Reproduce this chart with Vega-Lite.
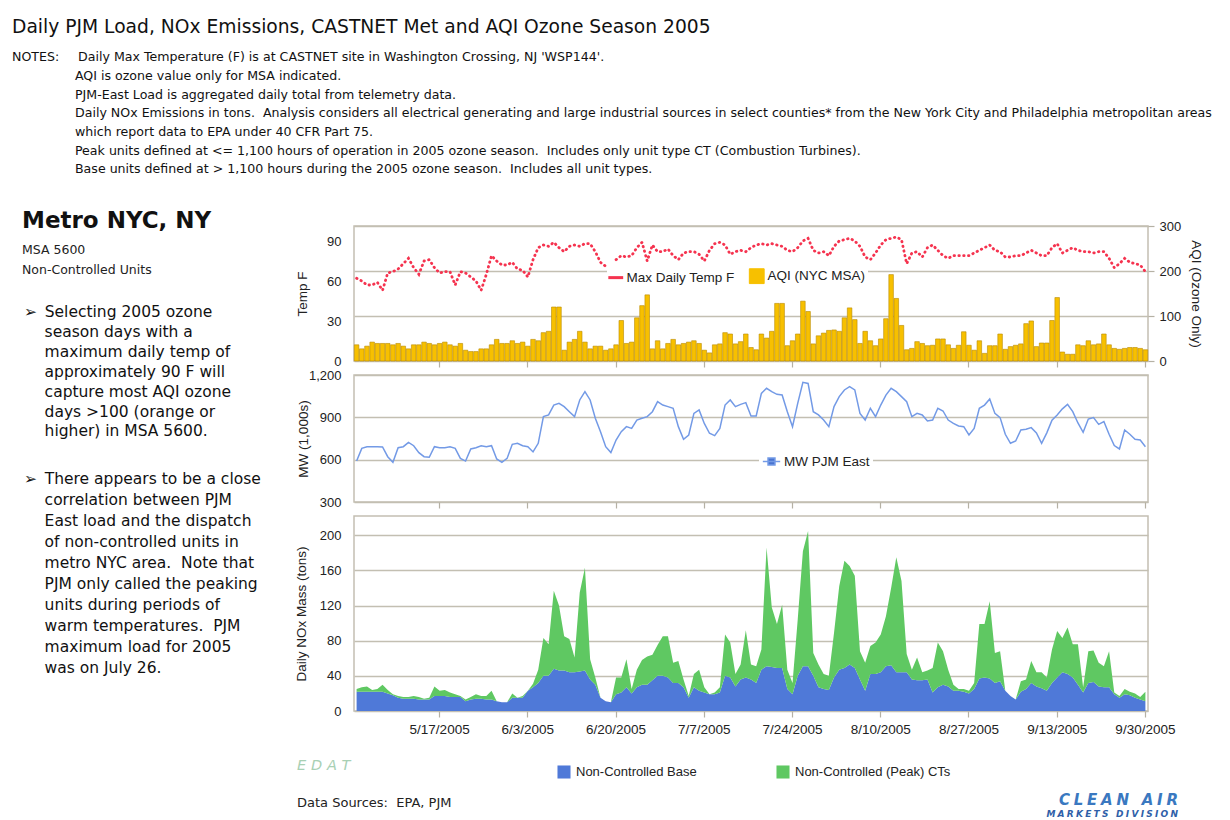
{
"$schema": "https://vega.github.io/schema/vega-lite/v6.json",
"background": "white",
"padding": {"left": 12, "top": 17, "right": 5, "bottom": 0},
"title": {
 "text": "Daily PJM Load, NOx Emissions, CASTNET Met and AQI Ozone Season 2005",
 "subtitle": [
  "NOTES:\u2003\u2002Daily Max Temperature (F) is at CASTNET site in Washington Crossing, NJ 'WSP144'.",
  "\u200b\u2003\u2003\u2003\u2003\u2003AQI is ozone value only for MSA indicated.",
  "\u200b\u2003\u2003\u2003\u2003\u2003PJM-East Load is aggregated daily total from telemetry data.",
  "\u200b\u2003\u2003\u2003\u2003\u2003Daily NOx Emissions in tons.\u00a0 Analysis considers all electrical generating and large industrial sources in select counties* from the New York City and Philadelphia metropolitan areas",
  "\u200b\u2003\u2003\u2003\u2003\u2003which report data to EPA under 40 CFR Part 75.",
  "\u200b\u2003\u2003\u2003\u2003\u2003Peak units defined at <= 1,100 hours of operation in 2005 ozone season.\u00a0 Includes only unit type CT (Combustion Turbines).",
  "\u200b\u2003\u2003\u2003\u2003\u2003Base units defined at > 1,100 hours during the 2005 ozone season.\u00a0 Includes all unit types."
 ],
 "anchor": "start", "frame": "group", "offset": 34,
 "font": "DejaVu Sans", "fontSize": 18.7, "fontWeight": "normal", "color": "#111",
 "subtitleFont": "DejaVu Sans", "subtitleFontSize": 12.6, "subtitleColor": "#111",
 "subtitleLineHeight": 18.7, "subtitlePadding": 15
},
"datasets": {"days": [
{"d":"5/1/2005","temp":62,"aqi":36,"mw":590,"base":22,"peak":3},
{"d":"5/2/2005","temp":60,"aqi":27,"mw":680,"base":22,"peak":5},
{"d":"5/3/2005","temp":57,"aqi":33,"mw":692,"base":22,"peak":6},
{"d":"5/4/2005","temp":57,"aqi":42,"mw":692,"base":22,"peak":2},
{"d":"5/5/2005","temp":59,"aqi":39,"mw":692,"base":22,"peak":3},
{"d":"5/6/2005","temp":53,"aqi":39,"mw":690,"base":22,"peak":8},
{"d":"5/7/2005","temp":66,"aqi":39,"mw":621,"base":20,"peak":4},
{"d":"5/8/2005","temp":67,"aqi":36,"mw":581,"base":18,"peak":1},
{"d":"5/9/2005","temp":69,"aqi":39,"mw":685,"base":15,"peak":2},
{"d":"5/10/2005","temp":73,"aqi":33,"mw":692,"base":14,"peak":2},
{"d":"5/11/2005","temp":77,"aqi":27,"mw":723,"base":14,"peak":2},
{"d":"5/12/2005","temp":70,"aqi":36,"mw":699,"base":14,"peak":3},
{"d":"5/13/2005","temp":65,"aqi":36,"mw":650,"base":13,"peak":3},
{"d":"5/14/2005","temp":75,"aqi":42,"mw":621,"base":13,"peak":1},
{"d":"5/15/2005","temp":76,"aqi":39,"mw":617,"base":13,"peak":2},
{"d":"5/16/2005","temp":70,"aqi":36,"mw":692,"base":17,"peak":11},
{"d":"5/17/2005","temp":66,"aqi":39,"mw":685,"base":17,"peak":6},
{"d":"5/18/2005","temp":67,"aqi":42,"mw":685,"base":17,"peak":7},
{"d":"5/19/2005","temp":67,"aqi":36,"mw":692,"base":16,"peak":5},
{"d":"5/20/2005","temp":57,"aqi":33,"mw":680,"base":16,"peak":3},
{"d":"5/21/2005","temp":67,"aqi":39,"mw":609,"base":16,"peak":1},
{"d":"5/22/2005","temp":66,"aqi":24,"mw":590,"base":11,"peak":2},
{"d":"5/23/2005","temp":63,"aqi":21,"mw":676,"base":13,"peak":3},
{"d":"5/24/2005","temp":60,"aqi":21,"mw":685,"base":14,"peak":5},
{"d":"5/25/2005","temp":53,"aqi":27,"mw":699,"base":14,"peak":3},
{"d":"5/26/2005","temp":65,"aqi":27,"mw":692,"base":13,"peak":4},
{"d":"5/27/2005","temp":79,"aqi":36,"mw":699,"base":13,"peak":10},
{"d":"5/28/2005","temp":75,"aqi":48,"mw":605,"base":11,"peak":0},
{"d":"5/29/2005","temp":72,"aqi":39,"mw":581,"base":10,"peak":0},
{"d":"5/30/2005","temp":72,"aqi":39,"mw":609,"base":10,"peak":0},
{"d":"5/31/2005","temp":74,"aqi":45,"mw":709,"base":15,"peak":5},
{"d":"6/1/2005","temp":69,"aqi":39,"mw":716,"base":15,"peak":0},
{"d":"6/2/2005","temp":68,"aqi":42,"mw":699,"base":15,"peak":2},
{"d":"6/3/2005","temp":63,"aqi":33,"mw":692,"base":23,"peak":0},
{"d":"6/4/2005","temp":76,"aqi":48,"mw":655,"base":27,"peak":4},
{"d":"6/5/2005","temp":85,"aqi":45,"mw":716,"base":32,"peak":15},
{"d":"6/6/2005","temp":87,"aqi":63,"mw":905,"base":40,"peak":43},
{"d":"6/7/2005","temp":86,"aqi":66,"mw":917,"base":40,"peak":36},
{"d":"6/8/2005","temp":89,"aqi":120,"mw":987,"base":48,"peak":89},
{"d":"6/9/2005","temp":85,"aqi":120,"mw":999,"base":46,"peak":74},
{"d":"6/10/2005","temp":82,"aqi":24,"mw":976,"base":46,"peak":39},
{"d":"6/11/2005","temp":86,"aqi":42,"mw":940,"base":44,"peak":38},
{"d":"6/12/2005","temp":87,"aqi":48,"mw":905,"base":44,"peak":17},
{"d":"6/13/2005","temp":86,"aqi":66,"mw":1023,"base":45,"peak":90},
{"d":"6/14/2005","temp":88,"aqi":42,"mw":1082,"base":46,"peak":117},
{"d":"6/15/2005","temp":88,"aqi":27,"mw":1023,"base":36,"peak":23},
{"d":"6/16/2005","temp":82,"aqi":33,"mw":893,"base":30,"peak":8},
{"d":"6/17/2005","temp":74,"aqi":33,"mw":798,"base":15,"peak":0},
{"d":"6/18/2005","temp":71,"aqi":24,"mw":692,"base":11,"peak":0},
{"d":"6/19/2005","temp":null,"aqi":27,"mw":650,"base":10,"peak":0},
{"d":"6/20/2005","temp":76,"aqi":36,"mw":739,"base":19,"peak":19},
{"d":"6/21/2005","temp":79,"aqi":90,"mw":798,"base":21,"peak":17},
{"d":"6/22/2005","temp":78,"aqi":39,"mw":834,"base":27,"peak":32},
{"d":"6/23/2005","temp":79,"aqi":42,"mw":822,"base":20,"peak":5},
{"d":"6/24/2005","temp":85,"aqi":96,"mw":881,"base":27,"peak":20},
{"d":"6/25/2005","temp":89,"aqi":123,"mw":893,"base":30,"peak":28},
{"d":"6/26/2005","temp":75,"aqi":147,"mw":905,"base":30,"peak":32},
{"d":"6/27/2005","temp":87,"aqi":27,"mw":940,"base":35,"peak":29},
{"d":"6/28/2005","temp":82,"aqi":45,"mw":1011,"base":40,"peak":35},
{"d":"6/29/2005","temp":82,"aqi":27,"mw":987,"base":40,"peak":45},
{"d":"6/30/2005","temp":84,"aqi":39,"mw":976,"base":38,"peak":47},
{"d":"7/1/2005","temp":79,"aqi":48,"mw":964,"base":32,"peak":23},
{"d":"7/2/2005","temp":76,"aqi":36,"mw":834,"base":32,"peak":25},
{"d":"7/3/2005","temp":81,"aqi":39,"mw":744,"base":27,"peak":9},
{"d":"7/4/2005","temp":82,"aqi":42,"mw":775,"base":15,"peak":2},
{"d":"7/5/2005","temp":82,"aqi":45,"mw":928,"base":27,"peak":15},
{"d":"7/6/2005","temp":80,"aqi":39,"mw":952,"base":23,"peak":24},
{"d":"7/7/2005","temp":75,"aqi":24,"mw":857,"base":21,"peak":6},
{"d":"7/8/2005","temp":83,"aqi":18,"mw":787,"base":19,"peak":0},
{"d":"7/9/2005","temp":88,"aqi":36,"mw":770,"base":19,"peak":2},
{"d":"7/10/2005","temp":89,"aqi":38,"mw":822,"base":21,"peak":6},
{"d":"7/11/2005","temp":87,"aqi":63,"mw":987,"base":40,"peak":47},
{"d":"7/12/2005","temp":80,"aqi":60,"mw":1023,"base":38,"peak":40},
{"d":"7/13/2005","temp":82,"aqi":38,"mw":976,"base":28,"peak":14},
{"d":"7/14/2005","temp":83,"aqi":43,"mw":992,"base":36,"peak":17},
{"d":"7/15/2005","temp":82,"aqi":60,"mw":1004,"base":38,"peak":54},
{"d":"7/16/2005","temp":85,"aqi":30,"mw":910,"base":36,"peak":17},
{"d":"7/17/2005","temp":87,"aqi":25,"mw":910,"base":32,"peak":19},
{"d":"7/18/2005","temp":88,"aqi":60,"mw":1070,"base":47,"peak":23},
{"d":"7/19/2005","temp":87,"aqi":51,"mw":1106,"base":51,"peak":135},
{"d":"7/20/2005","temp":88,"aqi":66,"mw":1082,"base":50,"peak":68},
{"d":"7/21/2005","temp":87,"aqi":128,"mw":1063,"base":49,"peak":50},
{"d":"7/22/2005","temp":86,"aqi":128,"mw":1058,"base":49,"peak":72},
{"d":"7/23/2005","temp":83,"aqi":34,"mw":940,"base":25,"peak":22},
{"d":"7/24/2005","temp":82,"aqi":45,"mw":834,"base":19,"peak":13},
{"d":"7/25/2005","temp":85,"aqi":60,"mw":999,"base":40,"peak":64},
{"d":"7/26/2005","temp":90,"aqi":133,"mw":1148,"base":51,"peak":131},
{"d":"7/27/2005","temp":92,"aqi":110,"mw":1140,"base":51,"peak":154},
{"d":"7/28/2005","temp":83,"aqi":38,"mw":940,"base":40,"peak":26},
{"d":"7/29/2005","temp":81,"aqi":56,"mw":917,"base":27,"peak":26},
{"d":"7/30/2005","temp":82,"aqi":62,"mw":881,"base":25,"peak":17},
{"d":"7/31/2005","temp":79,"aqi":68,"mw":834,"base":24,"peak":16},
{"d":"8/1/2005","temp":86,"aqi":69,"mw":976,"base":38,"peak":51},
{"d":"8/2/2005","temp":90,"aqi":66,"mw":1047,"base":47,"peak":95},
{"d":"8/3/2005","temp":91,"aqi":96,"mw":1094,"base":49,"peak":122},
{"d":"8/4/2005","temp":92,"aqi":118,"mw":1117,"base":53,"peak":112},
{"d":"8/5/2005","temp":90,"aqi":92,"mw":1094,"base":49,"peak":105},
{"d":"8/6/2005","temp":86,"aqi":39,"mw":928,"base":36,"peak":32},
{"d":"8/7/2005","temp":78,"aqi":66,"mw":881,"base":23,"peak":32},
{"d":"8/8/2005","temp":76,"aqi":45,"mw":964,"base":42,"peak":32},
{"d":"8/9/2005","temp":81,"aqi":34,"mw":905,"base":42,"peak":36},
{"d":"8/10/2005","temp":87,"aqi":49,"mw":987,"base":44,"peak":43},
{"d":"8/11/2005","temp":91,"aqi":94,"mw":1058,"base":51,"peak":57},
{"d":"8/12/2005","temp":92,"aqi":192,"mw":1106,"base":52,"peak":88},
{"d":"8/13/2005","temp":93,"aqi":139,"mw":1082,"base":44,"peak":131},
{"d":"8/14/2005","temp":91,"aqi":79,"mw":1047,"base":44,"peak":104},
{"d":"8/15/2005","temp":73,"aqi":25,"mw":1011,"base":44,"peak":21},
{"d":"8/16/2005","temp":81,"aqi":28,"mw":905,"base":36,"peak":11},
{"d":"8/17/2005","temp":82,"aqi":43,"mw":928,"base":35,"peak":26},
{"d":"8/18/2005","temp":78,"aqi":39,"mw":917,"base":35,"peak":9},
{"d":"8/19/2005","temp":85,"aqi":34,"mw":874,"base":36,"peak":10},
{"d":"8/20/2005","temp":87,"aqi":35,"mw":881,"base":21,"peak":28},
{"d":"8/21/2005","temp":83,"aqi":49,"mw":964,"base":27,"peak":51},
{"d":"8/22/2005","temp":79,"aqi":49,"mw":945,"base":30,"peak":38},
{"d":"8/23/2005","temp":77,"aqi":36,"mw":881,"base":28,"peak":19},
{"d":"8/24/2005","temp":79,"aqi":28,"mw":857,"base":23,"peak":7},
{"d":"8/25/2005","temp":79,"aqi":35,"mw":839,"base":23,"peak":2},
{"d":"8/26/2005","temp":79,"aqi":65,"mw":834,"base":22,"peak":3},
{"d":"8/27/2005","temp":79,"aqi":35,"mw":775,"base":20,"peak":3},
{"d":"8/28/2005","temp":81,"aqi":24,"mw":822,"base":25,"peak":7},
{"d":"8/29/2005","temp":83,"aqi":45,"mw":964,"base":37,"peak":62},
{"d":"8/30/2005","temp":85,"aqi":17,"mw":987,"base":38,"peak":61},
{"d":"8/31/2005","temp":87,"aqi":34,"mw":1030,"base":37,"peak":88},
{"d":"9/1/2005","temp":83,"aqi":34,"mw":928,"base":32,"peak":34},
{"d":"9/2/2005","temp":82,"aqi":60,"mw":898,"base":34,"peak":34},
{"d":"9/3/2005","temp":78,"aqi":26,"mw":780,"base":23,"peak":0},
{"d":"9/4/2005","temp":78,"aqi":32,"mw":716,"base":17,"peak":0},
{"d":"9/5/2005","temp":79,"aqi":35,"mw":732,"base":13,"peak":0},
{"d":"9/6/2005","temp":79,"aqi":38,"mw":810,"base":22,"peak":12},
{"d":"9/7/2005","temp":81,"aqi":83,"mw":815,"base":25,"peak":11},
{"d":"9/8/2005","temp":83,"aqi":89,"mw":827,"base":32,"peak":25},
{"d":"9/9/2005","temp":81,"aqi":32,"mw":790,"base":28,"peak":16},
{"d":"9/10/2005","temp":79,"aqi":40,"mw":716,"base":26,"peak":18},
{"d":"9/11/2005","temp":79,"aqi":40,"mw":790,"base":23,"peak":15},
{"d":"9/12/2005","temp":85,"aqi":90,"mw":880,"base":32,"peak":38},
{"d":"9/13/2005","temp":88,"aqi":141,"mw":917,"base":38,"peak":53},
{"d":"9/14/2005","temp":81,"aqi":20,"mw":960,"base":44,"peak":39},
{"d":"9/15/2005","temp":83,"aqi":15,"mw":992,"base":42,"peak":53},
{"d":"9/16/2005","temp":85,"aqi":15,"mw":940,"base":38,"peak":38},
{"d":"9/17/2005","temp":83,"aqi":36,"mw":860,"base":30,"peak":46},
{"d":"9/18/2005","temp":82,"aqi":34,"mw":794,"base":21,"peak":6},
{"d":"9/19/2005","temp":82,"aqi":45,"mw":888,"base":32,"peak":36},
{"d":"9/20/2005","temp":81,"aqi":36,"mw":898,"base":33,"peak":36},
{"d":"9/21/2005","temp":82,"aqi":38,"mw":850,"base":28,"peak":27},
{"d":"9/22/2005","temp":82,"aqi":60,"mw":870,"base":27,"peak":24},
{"d":"9/23/2005","temp":77,"aqi":36,"mw":780,"base":27,"peak":41},
{"d":"9/24/2005","temp":70,"aqi":28,"mw":700,"base":19,"peak":2},
{"d":"9/25/2005","temp":73,"aqi":26,"mw":676,"base":15,"peak":2},
{"d":"9/26/2005","temp":77,"aqi":28,"mw":810,"base":19,"peak":6},
{"d":"9/27/2005","temp":74,"aqi":30,"mw":780,"base":18,"peak":4},
{"d":"9/28/2005","temp":73,"aqi":30,"mw":745,"base":15,"peak":5},
{"d":"9/29/2005","temp":72,"aqi":28,"mw":739,"base":13,"peak":3},
{"d":"9/30/2005","temp":67,"aqi":25,"mw":692,"base":11,"peak":11}
]},
"columns": 2,
"bounds": "flush",
"spacing": {"row": 14, "column": 72},
"resolve": {"scale": {"color": "independent"}, "legend": {"color": "independent"}},
"concat": [
 {
  "width": 270, "height": 135,
  "view": {"stroke": null},
  "data": {"values": [{}]},
  "mark": {"type": "text", "text": ""},
  "title": {
   "text": "Metro NYC, NY",
   "subtitle": ["MSA 5600", "Non-Controlled Units"],
   "anchor": "start", "orient": "top", "frame": "group", "offset": -50.5, "dx": 10,
   "font": "DejaVu Sans", "fontSize": 23, "fontWeight": "bold", "color": "#111",
   "subtitleFont": "DejaVu Sans", "subtitleFontSize": 12.5, "subtitleColor": "#222",
   "subtitleLineHeight": 20, "subtitlePadding": 11
  }
 },
 {
  "width": 794, "height": 135,
  "data": {"name": "days"},
  "resolve": {"scale": {"y": "independent"}},
  "layer": [
   {
    "mark": {"type": "bar", "stroke": "#b88a00", "strokeWidth": 0.6},
    "encoding": {
     "x": {"field": "d", "type": "ordinal", "sort": null,
           "scale": {"type": "band", "paddingInner": 0.12, "paddingOuter": 0.06},
           "axis": {"values": ["5/17/2005","6/3/2005","6/20/2005","7/7/2005","7/24/2005","8/10/2005","8/27/2005","9/13/2005","9/30/2005"],
                    "labels": false, "ticks": true, "tickSize": 6, "title": null, "grid": false, "domain": false}},
     "y": {"field": "aqi", "type": "quantitative", "scale": {"domain": [0, 300]},
           "axis": {"orient": "right", "title": "AQI (Ozone Only)", "values": [0, 100, 200, 300], "grid": true,
                    "ticks": true, "tickSize": 6, "labelPadding": 5, "titlePadding": 8}},
     "color": {"datum": "AQI (NYC MSA)",
               "scale": {"domain": ["Max Daily Temp F", "AQI (NYC MSA)"], "range": ["#f5334f", "#f7c000"]},
               "legend": {
                "orient": "none", "legendX": 253, "legendY": 41, "direction": "horizontal", "title": null,
                "fillColor": "white", "padding": 2, "symbolSize": 220, "columnPadding": 12, "labelOffset": 4,
                "encode": {"symbols": {"update": {
                 "shape": {"signal": "datum.value === 'AQI (NYC MSA)' ? 'square' : 'stroke'"},
                 "fill": {"signal": "datum.value === 'AQI (NYC MSA)' ? '#f7c000' : 'transparent'"},
                 "stroke": {"signal": "datum.value === 'AQI (NYC MSA)' ? '#b88a00' : '#f5334f'"},
                 "strokeWidth": {"signal": "datum.value === 'AQI (NYC MSA)' ? 1 : 3"},
                 "opacity": {"value": 1}
                }}}
               }}
    }
   },
   {
    "mark": {"type": "line", "strokeDash": [0.5, 4.3], "strokeCap": "round", "strokeWidth": 2.8},
    "encoding": {
     "x": {"field": "d", "type": "ordinal", "sort": null},
     "y": {"field": "temp", "type": "quantitative", "scale": {"domain": [0, 101.25]},
           "axis": {"orient": "left", "title": "Temp F", "values": [0, 30, 60, 90], "grid": false, "titlePadding": 17}},
     "color": {"datum": "Max Daily Temp F",
               "legend": {
                "orient": "none", "legendX": 253, "legendY": 41, "direction": "horizontal", "title": null,
                "fillColor": "white", "padding": 2, "symbolSize": 220, "columnPadding": 12, "labelOffset": 4,
                "encode": {"symbols": {"update": {
                 "shape": {"signal": "datum.value === 'AQI (NYC MSA)' ? 'square' : 'stroke'"},
                 "fill": {"signal": "datum.value === 'AQI (NYC MSA)' ? '#f7c000' : 'transparent'"},
                 "stroke": {"signal": "datum.value === 'AQI (NYC MSA)' ? '#b88a00' : '#f5334f'"},
                 "strokeWidth": {"signal": "datum.value === 'AQI (NYC MSA)' ? 1 : 3"},
                 "opacity": {"value": 1}
                }}}
               }}
    }
   }
  ]
 },
 {
  "width": 270, "height": 127,
  "view": {"stroke": null},
  "data": {"values": [{}]},
  "mark": {"type": "text", "text": ""},
  "title": {
   "text": [
    "\u27a2\u2002Selecting 2005 ozone",
    "\u200b\u2003\u2004season days with a",
    "\u200b\u2003\u2004maximum daily temp of",
    "\u200b\u2003\u2004approximately 90 F will",
    "\u200b\u2003\u2004capture most AQI ozone",
    "\u200b\u2003\u2004days >100 (orange or",
    "\u200b\u2003\u2004higher) in MSA 5600."
   ],
   "anchor": "start", "orient": "top", "frame": "group", "offset": -65, "dx": 12,
   "font": "DejaVu Sans", "fontSize": 15.5, "fontWeight": "normal", "color": "#111",
   "lineHeight": 19.9
  }
 },
 {
  "width": 794, "height": 127,
  "data": {"name": "days"},
  "mark": {"type": "line", "strokeWidth": 1.5},
  "encoding": {
   "x": {"field": "d", "type": "ordinal", "sort": null,
         "scale": {"type": "band", "paddingInner": 0.12, "paddingOuter": 0.06},
         "axis": {"values": ["5/17/2005","6/3/2005","6/20/2005","7/7/2005","7/24/2005","8/10/2005","8/27/2005","9/13/2005","9/30/2005"],
                  "labels": false, "ticks": true, "tickSize": 6, "title": null, "grid": false, "domain": false}},
   "y": {"field": "mw", "type": "quantitative", "scale": {"domain": [300, 1200]},
         "axis": {"title": "MW (1,000s)", "values": [300, 600, 900, 1200], "grid": true, "titlePadding": -2}},
   "color": {"datum": "MW PJM East", "scale": {"domain": ["MW PJM East"], "range": ["#739ae6"]},
             "legend": {
              "orient": "none", "legendX": 405, "legendY": 74, "direction": "horizontal", "title": null,
              "fillColor": "white", "padding": 3, "symbolSize": 300, "labelOffset": 3,
              "encode": {"symbols": {"update": {
               "shape": {"value": "M-1,0L1,0M-0.4,-0.4L0.4,-0.4L0.4,0.4L-0.4,0.4Z"},
               "fill": {"value": "#4a74d0"},
               "stroke": {"value": "#4a74d0"},
               "strokeWidth": {"value": 1.5},
               "opacity": {"value": 1}
              }}}
             }}
  }
 },
 {
  "width": 270, "height": 195,
  "view": {"stroke": null},
  "data": {"values": [{}]},
  "mark": {"type": "text", "text": ""},
  "title": {
   "text": [
    "\u27a2\u2002There appears to be a close",
    "\u200b\u2003\u2004correlation between PJM",
    "\u200b\u2003\u2004East load and the dispatch",
    "\u200b\u2003\u2004of non-controlled units in",
    "\u200b\u2003\u2004metro NYC area.\u00a0 Note that",
    "\u200b\u2003\u2004PJM only called the peaking",
    "\u200b\u2003\u2004units during periods of",
    "\u200b\u2003\u2004warm temperatures.\u00a0 PJM",
    "\u200b\u2003\u2004maximum load for 2005",
    "\u200b\u2003\u2004was on July 26."
   ],
   "anchor": "start", "orient": "top", "frame": "group", "offset": -161, "dx": 12,
   "font": "DejaVu Sans", "fontSize": 15.5, "fontWeight": "normal", "color": "#111",
   "lineHeight": 21.1
  }
 },
 {
  "width": 794, "height": 195,
  "data": {"name": "days"},
  "transform": [{"fold": ["base", "peak"], "as": ["series", "tons"]}],
  "mark": {"type": "area"},
  "encoding": {
   "x": {"field": "d", "type": "ordinal", "sort": null,
         "scale": {"type": "band", "paddingInner": 0.12, "paddingOuter": 0.06},
         "axis": {"values": ["5/17/2005","6/3/2005","6/20/2005","7/7/2005","7/24/2005","8/10/2005","8/27/2005","9/13/2005","9/30/2005"],
                  "labels": true, "labelAngle": 0, "labelFontSize": 13.5, "labelPadding": 5, "ticks": true, "tickSize": 6,
                  "title": null, "grid": false, "domain": false}},
   "y": {"field": "tons", "type": "quantitative", "stack": "zero", "scale": {"domain": [0, 222]},
         "axis": {"title": "Daily NOx Mass (tons)", "values": [0, 40, 80, 120, 160, 200], "grid": true, "titlePadding": 11}},
   "order": {"field": "series", "sort": "ascending"},
   "color": {"field": "series", "type": "nominal",
             "scale": {"domain": ["base", "peak"], "range": ["#4f79d8", "#5fc862"]},
             "legend": {
              "orient": "none", "legendX": 203, "legendY": 249, "direction": "horizontal", "title": null,
              "symbolType": "square", "symbolSize": 170, "symbolStrokeWidth": 0, "columnPadding": 79, "labelOffset": 5,
              "labelFontSize": 13,
              "labelExpr": "datum.label == 'base' ? 'Non-Controlled Base' : 'Non-Controlled (Peak) CTs'"
             }}
  }
 },
 {
  "width": 270, "height": 30,
  "view": {"stroke": null},
  "data": {"values": [{}]},
  "mark": {"type": "text", "text": ""},
  "title": {
   "text": "E\u2004D\u2004A\u2004T",
   "subtitle": "Data Sources:\u00a0 EPA, PJM",
   "orient": "bottom", "anchor": "start", "frame": "group", "dx": 285, "offset": 4,
   "font": "DejaVu Sans", "fontSize": 14.5, "fontStyle": "italic", "fontWeight": "normal", "color": "#a8d0b4",
   "subtitleFont": "DejaVu Sans", "subtitleFontSize": 13, "subtitleColor": "#222", "subtitlePadding": 23.5
  }
 },
 {
  "width": 794, "height": 30,
  "view": {"stroke": null},
  "data": {"values": [{}]},
  "mark": {"type": "text", "text": ""},
  "title": {
   "text": "C\u2005L\u2005E\u2005A\u2005N\u2005 \u2005A\u2005I\u2005R",
   "subtitle": "M\u2005A\u2005R\u2005K\u2005E\u2005T\u2005S\u2005 \u2005D\u2005I\u2005V\u2005I\u2005S\u2005I\u2005O\u2005N",
   "orient": "bottom", "anchor": "end", "frame": "group", "dx": 30, "offset": 38,
   "font": "DejaVu Sans", "fontSize": 15, "fontStyle": "italic", "fontWeight": "bold", "color": "#3a78c0",
   "subtitleFont": "DejaVu Sans", "subtitleFontSize": 9, "subtitleFontStyle": "italic", "subtitleFontWeight": "bold",
   "subtitleColor": "#2f5fa8", "subtitlePadding": 2
  }
 }
],
"config": {
 "font": "Liberation Sans",
 "view": {"stroke": "#c3bfb2", "strokeWidth": 1.5},
 "axis": {
  "domain": false, "ticks": false, "tickColor": "#b5b1a4", "tickWidth": 1.2,
  "labelFont": "Liberation Sans", "labelFontSize": 13, "labelColor": "#222", "labelPadding": 13,
  "titleFont": "Liberation Sans", "titleFontSize": 13.5, "titleFontWeight": "normal", "titleColor": "#222",
  "gridColor": "#c3bfb2", "gridWidth": 1.5
 },
 "legend": {"labelFont": "Liberation Sans", "labelFontSize": 13.5, "labelColor": "#222", "labelLimit": 300}
}
}
